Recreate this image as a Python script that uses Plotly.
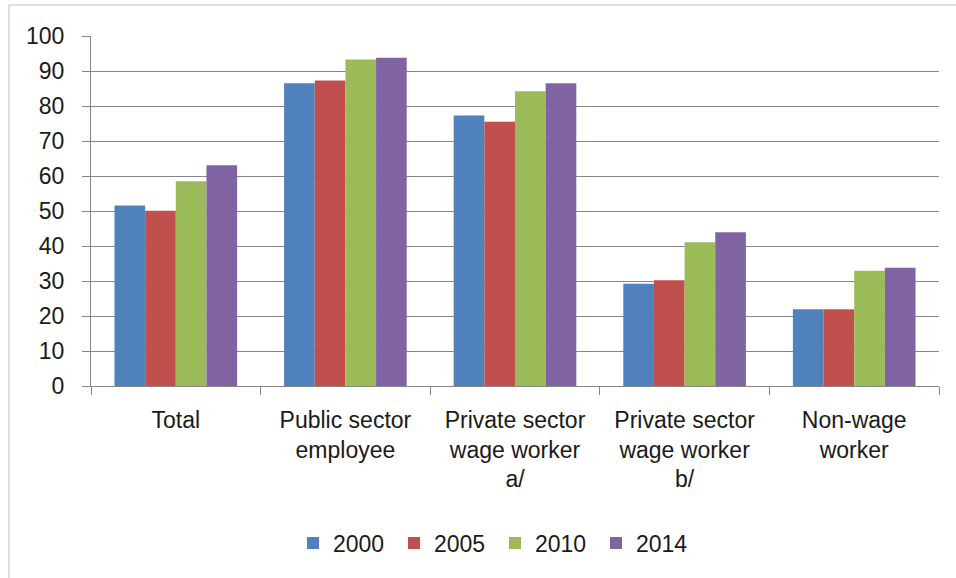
import plotly.graph_objects as go

categories = [
    "Total",
    "Public sector<br>employee",
    "Private sector<br>wage worker<br>a/",
    "Private sector<br>wage worker<br>b/",
    "Non-wage<br>worker",
]
years = ["2000", "2005", "2010", "2014"]
values_2000 = [51.6, 86.5, 77.3, 29.2, 21.9]
values_2005 = [50.1, 87.3, 75.5, 30.2, 21.9]
values_2010 = [58.5, 93.3, 84.2, 41.1, 32.9]
values_2014 = [63.1, 93.8, 86.5, 43.9, 33.8]
colors = ["#4F81BD", "#C0504D", "#9BBB59", "#8064A2"]
y_ticks = [0, 10, 20, 30, 40, 50, 60, 70, 80, 90, 100]

FONT = "Liberation Sans"
TEXT = "#1a1a1a"
GRID = "#868686"

fig = go.Figure()
for year, vals, col in zip(years, [values_2000, values_2005, values_2010, values_2014], colors):
    fig.add_trace(go.Bar(x=categories, y=vals, name=year, marker=dict(color=col, line=dict(width=0))))

W, H = 956, 578
ml, mr, mt, mb = 91, 17, 36, 192
pw, ph = W - ml - mr, H - mt - mb

fig.update_layout(
    width=W, height=H,
    margin=dict(l=ml, r=mr, t=mt, b=mb),
    paper_bgcolor="white", plot_bgcolor="white",
    barmode="group", bargap=0.277, bargroupgap=0,
    font=dict(family=FONT, size=23, color=TEXT),
    showlegend=True,
    legend=dict(
        orientation="h", x=(293 - ml) / pw, xanchor="left",
        y=(386 - 543) / ph, yanchor="middle",
        entrywidth=56, font=dict(size=23, color=TEXT),
        bgcolor="rgba(0,0,0,0)", borderwidth=0,
    ),
    xaxis=dict(
        showline=True, linecolor=GRID, linewidth=1,
        ticks="outside", tickson="boundaries", ticklen=8, tickcolor=GRID,
        showgrid=False, ticklabelstandoff=13,
    ),
    yaxis=dict(
        range=[0, 100], tickvals=y_ticks,
        showline=True, linecolor=GRID, linewidth=1,
        ticks="outside", ticklen=8, tickcolor=GRID,
        showgrid=True, gridcolor=GRID, gridwidth=1,
        zeroline=False, ticklabelstandoff=13,
    ),
    shapes=[dict(
        type="rect", xref="paper", yref="paper",
        x0=(9 - ml) / pw, x1=(W + 5 - ml) / pw,
        y0=-(H + 5 - mt - ph) / ph - 0.05, y1=1 + (mt - 5) / ph,
        line=dict(color="#BFBFBF", width=1), layer="below",
    )],
)

fig.write_html("out.html")
